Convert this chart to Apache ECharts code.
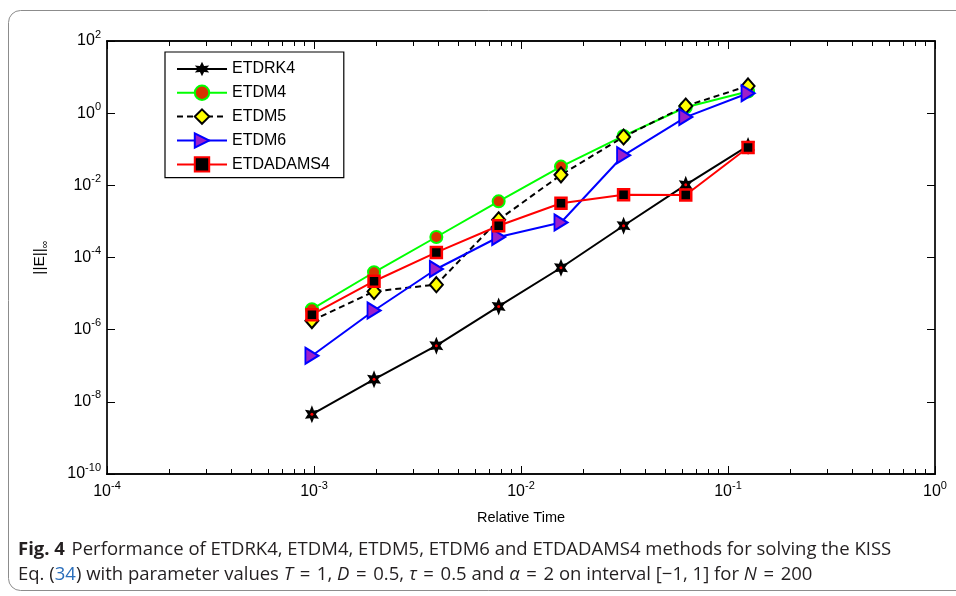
<!DOCTYPE html>
<html>
<head>
<meta charset="utf-8">
<script src="https://cdn.jsdelivr.net/npm/echarts@6/dist/echarts.min.js"></script>
<style>
  html, body { margin: 0; padding: 0; background: #fff; }
  #chart { width: 956px; height: 596px; }
</style>
</head>
<body>
<div id="chart"></div>
<script>
// relative time (x) for the 8 runs
const xTime = [0.000977, 0.00195, 0.0039, 0.0078, 0.0156, 0.0313, 0.0625, 0.125];
// max error ||E||_inf for each method
const etdrk4 = [4.5e-9, 4.2e-8, 3.6e-7, 4.4e-6, 5.2e-5, 7.6e-4, 1.03e-2, 0.124];
const etdm4 = [3.7e-6, 3.9e-5, 3.7e-4, 3.6e-3, 3.3e-2, 0.234, 1.46, 3.97];
const etdm5 = [1.78e-6, 1.15e-5, 1.77e-5, 1.11e-3, 1.95e-2, 0.22, 1.58, 5.7];
const etdm6 = [1.9e-7, 3.4e-6, 4.8e-5, 3.7e-4, 9.3e-4, 6.8e-2, 0.78, 3.57];
const etdadams4 = [2.6e-6, 2.2e-5, 1.38e-4, 7.6e-4, 3.2e-3, 5.5e-3, 5.4e-3, 0.112];

const seriesNames = ['ETDRK4', 'ETDM4', 'ETDM5', 'ETDM6', 'ETDADAMS4'];

// tick positions
const xMajorTicks = [1e-4, 1e-3, 1e-2, 1e-1, 1];
const xMinorTicks = [
  2e-4, 3e-4, 4e-4, 5e-4, 6e-4, 7e-4, 8e-4, 9e-4,
  2e-3, 3e-3, 4e-3, 5e-3, 6e-3, 7e-3, 8e-3, 9e-3,
  2e-2, 3e-2, 4e-2, 5e-2, 6e-2, 7e-2, 8e-2, 9e-2,
  0.2, 0.3, 0.4, 0.5, 0.6, 0.7, 0.8, 0.9
];
const yTicks = [1e-10, 1e-8, 1e-6, 1e-4, 1e-2, 1, 100];

const FONT = '"Liberation Sans", Arial, sans-serif';
const CAPFONT = '"Open Sans", "Noto Sans", sans-serif';

const starPath = 'path://M0,-10 L2.5,-4.33 L8.66,-5 L5,0 L8.66,5 L2.5,4.33 L0,10 L-2.5,4.33 L-8.66,5 L-5,0 L-8.66,-5 L-2.5,-4.33 Z';
const triRight = 'path://M0,0 L10,5 L0,10 Z';

function pairs(ys) {
  return ys.map((v, i) => [xTime[i], v]);
}

function powLabel(v) {
  const e = Math.round(Math.log10(v));
  return '{b|10}{s|' + e + '}';
}

const powRich = {
  b: { fontSize: 16, fontFamily: FONT, color: '#000', lineHeight: 24 },
  s: { fontSize: 11, fontFamily: FONT, color: '#000', verticalAlign: 'top', lineHeight: 13 }
};

function xAxisDef(position, ticks, len, labels) {
  return {
    type: 'log',
    logBase: 10,
    position: position,
    min: 1e-4,
    max: 1,
    axisLine: { show: true, lineStyle: { color: '#000', width: 1.7 } },
    axisTick: { show: true, inside: true, length: len, customValues: ticks, lineStyle: { color: '#000', width: 1 } },
    axisLabel: labels ? {
      show: true, margin: 6, customValues: xMajorTicks,
      formatter: powLabel, rich: powRich
    } : { show: false },
    splitLine: { show: false },
    name: labels ? 'Relative Time' : '',
    nameLocation: 'middle',
    nameGap: 36,
    nameTextStyle: { fontSize: 14.5, fontFamily: FONT, color: '#000' }
  };
}

const chart = echarts.init(document.getElementById('chart'), null, { renderer: 'canvas' });

// slightly wider "=" like the typeset caption
const EQ = ' \u200a=\u200a ';

const option = {
  backgroundColor: '#fff',
  animation: false,
  grid: { left: 107, right: 21, top: 41, bottom: 122, containLabel: false },
  xAxis: [
    xAxisDef('bottom', xMajorTicks, 8, true),
    xAxisDef('bottom', xMinorTicks, 5, false),
    xAxisDef('top', xMajorTicks, 8, false),
    xAxisDef('top', xMinorTicks, 5, false)
  ],
  yAxis: [
    {
      type: 'log',
      logBase: 10,
      position: 'left',
      min: 1e-10,
      max: 100,
      axisLine: { show: true, lineStyle: { color: '#000', width: 1.7 } },
      axisTick: { show: true, inside: true, length: 8, customValues: yTicks, lineStyle: { color: '#000', width: 1 } },
      axisLabel: { show: true, margin: 6, customValues: yTicks, formatter: powLabel, rich: powRich },
      splitLine: { show: false },
      name: '{a|||E||}{b|∞}',
      nameLocation: 'middle',
      nameGap: 57,
      nameRotate: 90,
      nameTextStyle: {
        rich: {
          a: { fontSize: 15.5, fontFamily: FONT, color: '#000', lineHeight: 20 },
          b: { fontSize: 11, fontFamily: FONT, color: '#000', verticalAlign: 'bottom', lineHeight: 12 }
        }
      }
    },
    {
      type: 'log',
      logBase: 10,
      position: 'right',
      min: 1e-10,
      max: 100,
      axisLine: { show: true, lineStyle: { color: '#000', width: 1.7 } },
      axisTick: { show: true, inside: true, length: 8, customValues: yTicks, lineStyle: { color: '#000', width: 1 } },
      axisLabel: { show: false },
      splitLine: { show: false }
    }
  ],
  legend: {
    data: seriesNames,
    orient: 'vertical',
    left: 165,
    top: 52,
    itemWidth: 50,
    itemHeight: 18,
    itemGap: 7.5,
    padding: [9, 14, 5, 11],
    borderColor: '#000',
    borderWidth: 1.2,
    backgroundColor: '#fff',
    textStyle: { fontSize: 16, fontFamily: FONT, color: '#000' }
  },
  series: [
    {
      name: 'ETDRK4',
      type: 'line',
      data: pairs(etdrk4),
      symbol: starPath,
      symbolSize: [14, 18],
      lineStyle: { color: '#000', width: 2 },
      itemStyle: { color: '#000', borderColor: '#000', borderWidth: 0 }
    },
    {
      name: 'ETDRK4 centre',
      type: 'line',
      data: pairs(etdrk4),
      symbol: 'circle',
      symbolSize: 3,
      lineStyle: { width: 0, opacity: 0 },
      itemStyle: { color: '#ff0000' },
      silent: true
    },
    {
      name: 'ETDM4',
      type: 'line',
      data: pairs(etdm4),
      symbol: 'circle',
      symbolSize: 12,
      lineStyle: { color: '#00ff00', width: 2 },
      itemStyle: { color: '#d83400', borderColor: '#00ff00', borderWidth: 2 }
    },
    {
      name: 'ETDM5',
      type: 'line',
      data: pairs(etdm5),
      symbol: 'diamond',
      symbolSize: [13, 15],
      lineStyle: { color: '#000', width: 2, type: [6, 4] },
      itemStyle: { color: '#ffff00', borderColor: '#000', borderWidth: 2 }
    },
    {
      name: 'ETDM6',
      type: 'line',
      data: pairs(etdm6),
      symbol: triRight,
      symbolSize: [13, 16],
      lineStyle: { color: '#0000ff', width: 2 },
      itemStyle: { color: '#9d20c8', borderColor: '#0000ff', borderWidth: 2 }
    },
    {
      name: 'ETDADAMS4',
      type: 'line',
      data: pairs(etdadams4),
      symbol: 'rect',
      symbolSize: 11,
      lineStyle: { color: '#ff0000', width: 2 },
      itemStyle: { color: '#000', borderColor: '#ff0000', borderWidth: 2.5 }
    }
  ],
  graphic: [
    {
      type: 'rect',
      silent: true,
      z: -10,
      shape: { x: 8.5, y: 10.5, width: 1000, height: 580, r: 12 },
      style: { fill: 'none', stroke: '#8c8c8c', lineWidth: 1 }
    },
    {
      type: 'text',
      left: 18,
      top: 540,
      style: {
        text: '{bold|Fig. 4}  {n|Performance of ETDRK4, ETDM4, ETDM5, ETDM6 and ETDADAMS4 methods for solving the KISS}',
        rich: {
          bold: { fontFamily: CAPFONT, fontSize: 18.5, fontWeight: 'bold', fill: '#231f20' },
          n: { fontFamily: CAPFONT, fontSize: 18.5, fill: '#231f20' }
        }
      }
    },
    {
      type: 'text',
      left: 18,
      top: 565,
      style: {
        text: '{n|Eq. (}{blue|34}{n|) with parameter values }{i|T}{n|' + EQ + '1, }{i|D}{n|' + EQ + '0.5, }{i|τ}{n|' + EQ +
          '0.5 and }{i|α}{n|' + EQ + '2 on interval [−1, 1] for }{i|N}{n|' + EQ + '200}',
        rich: {
          n: { fontFamily: CAPFONT, fontSize: 18.5, fill: '#231f20' },
          blue: { fontFamily: CAPFONT, fontSize: 18.5, fill: '#2a6ebb' },
          i: { fontFamily: CAPFONT, fontSize: 18.5, fontStyle: 'italic', fill: '#231f20' }
        }
      }
    }
  ]
};

chart.setOption(option);
</script>
</body>
</html>
